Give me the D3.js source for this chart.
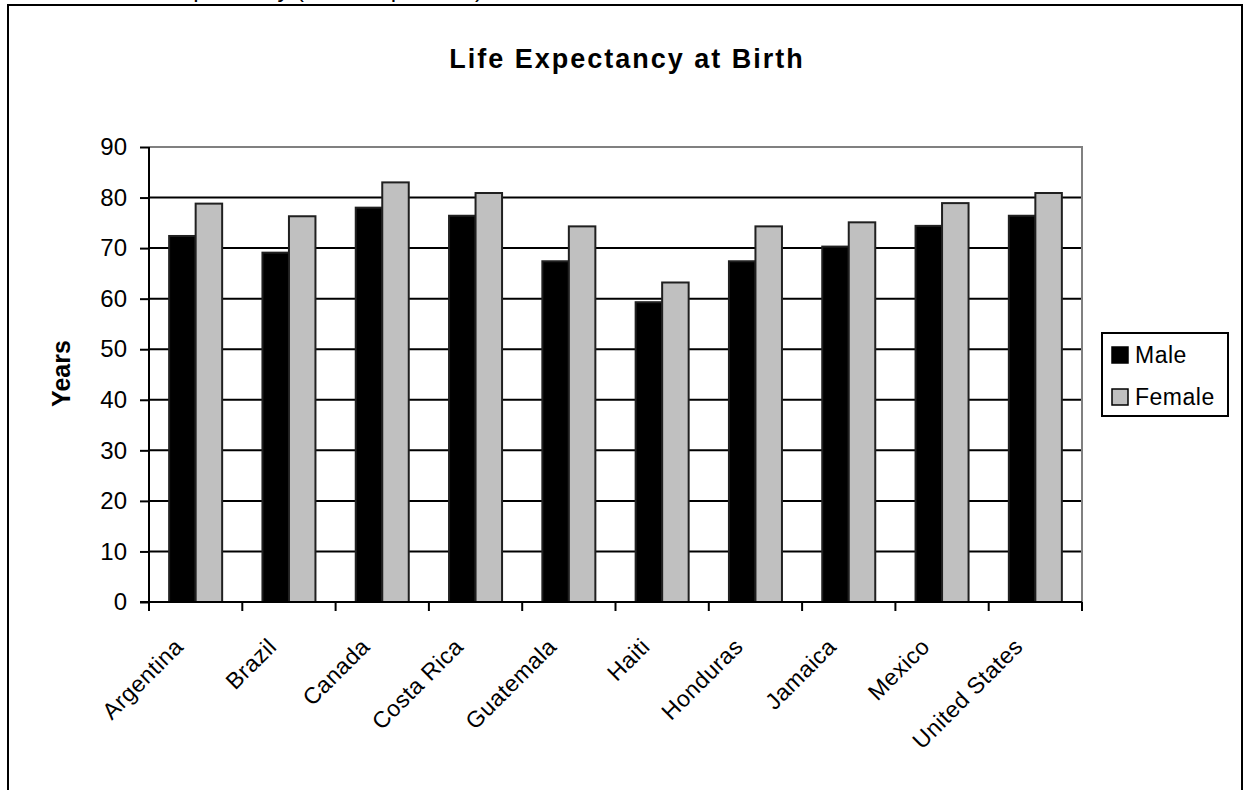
<!DOCTYPE html>
<html>
<head>
<meta charset="utf-8">
<script src="https://cdn.jsdelivr.net/npm/d3@7"></script>
<style>
  html, body { margin: 0; padding: 0; background: #fff; }
  svg { display: block; }
  text { font-family: "Liberation Sans", Arial, sans-serif; fill: #000; }
</style>
</head>
<body>
<svg id="chart" width="1244" height="790"></svg>
<script>
// Life expectancy at birth, in years
const countries = ["Argentina", "Brazil", "Canada", "Costa Rica", "Guatemala",
                   "Haiti", "Honduras", "Jamaica", "Mexico", "United States"];
const maleYears   = [72.4, 69.1, 78.0, 76.4, 67.4, 59.3, 67.4, 70.3, 74.4, 76.4];
const femaleYears = [78.8, 76.3, 83.0, 80.9, 74.3, 63.2, 74.3, 75.1, 78.9, 80.9];
const seriesNames  = ["Male", "Female"];
const seriesColors = ["#000000", "#c0c0c0"];
const yTicks = [0, 10, 20, 30, 40, 50, 60, 70, 80, 90];

const rows = countries.map((c, i) => ({ country: c, values: [maleYears[i], femaleYears[i]] }));

const svg = d3.select("#chart");
const plot = { left: 149, right: 1082, top: 147, bottom: 602 };

// outer chart frame
svg.append("rect")
  .attr("x", 8).attr("y", 5).attr("width", 1234).attr("height", 800)
  .attr("fill", "#fff").attr("stroke", "#000").attr("stroke-width", 2);

// sheet header line sitting just above the chart frame
svg.append("text")
  .attr("x", 120).attr("y", -3)
  .attr("font-size", 24)
  .text("Life Expectancy (Total Population)");

const x0 = d3.scaleBand().domain(countries).range([plot.left, plot.right]).padding(0);
const x1 = d3.scaleBand().domain(seriesNames).range([0, x0.bandwidth()])
  .paddingInner(0).paddingOuter(0.76);
const y = d3.scaleLinear().domain([0, 90]).range([plot.bottom, plot.top]);

// gridlines
svg.append("g")
  .selectAll("line")
  .data(yTicks.filter(t => t > 0 && t < 90))
  .join("line")
  .attr("x1", plot.left).attr("x2", plot.right)
  .attr("y1", d => y(d)).attr("y2", d => y(d))
  .attr("stroke", "#000").attr("stroke-width", 2);

// plot area border (top and right in gray)
svg.append("path")
  .attr("d", `M${plot.left},${y(90)}H${plot.right}V${plot.bottom}`)
  .attr("fill", "none").attr("stroke", "#808080").attr("stroke-width", 2);

// bars
const groups = svg.append("g").selectAll("g")
  .data(rows)
  .join("g")
  .attr("transform", d => `translate(${x0(d.country)},0)`);

groups.selectAll("rect")
  .data(d => d.values.map((v, i) => ({ name: seriesNames[i], value: v, color: seriesColors[i] })))
  .join("rect")
  .attr("x", d => x1(d.name))
  .attr("width", x1.bandwidth())
  .attr("y", d => y(d.value))
  .attr("height", d => y(0) - y(d.value))
  .attr("fill", d => d.color)
  .attr("stroke", "#202020")
  .attr("stroke-width", 2);

// y axis
const yAxis = d3.axisLeft(y).tickValues(yTicks).tickSize(9).tickPadding(13);
const gy = svg.append("g").attr("transform", `translate(${plot.left},0)`).call(yAxis);
gy.select(".domain").attr("stroke", "#000").attr("stroke-width", 2).attr("d", `M0,${y(90)}V${y(0)}`);
gy.selectAll(".tick line").attr("stroke", "#000").attr("stroke-width", 2);
gy.selectAll(".tick text")
  .attr("font-family", "Liberation Sans, Arial, sans-serif")
  .attr("font-size", 24).attr("fill", "#000");

// x axis: ticks at category boundaries
const xBounds = countries.map(c => x0(c)).concat([plot.right]);
svg.append("line")
  .attr("x1", plot.left - 9).attr("x2", plot.right)
  .attr("y1", plot.bottom).attr("y2", plot.bottom)
  .attr("stroke", "#000").attr("stroke-width", 2);
svg.append("g").selectAll("line")
  .data(xBounds)
  .join("line")
  .attr("x1", d => d).attr("x2", d => d)
  .attr("y1", plot.bottom).attr("y2", plot.bottom + 9)
  .attr("stroke", "#000").attr("stroke-width", 2);

// category labels, rotated
svg.append("g").selectAll("text")
  .data(countries)
  .join("text")
  .attr("transform", d => `translate(${x0(d) + x0.bandwidth() / 2 - 11},648) rotate(-45)`)
  .attr("text-anchor", "end")
  .attr("font-size", 23)
  .attr("letter-spacing", 0.5)
  .text(d => d);

// axis title
svg.append("text")
  .attr("transform", "translate(70,373.5) rotate(-90)")
  .attr("text-anchor", "middle")
  .attr("font-size", 25).attr("font-weight", "bold")
  .text("Years");

// chart title
svg.append("text")
  .attr("x", 627).attr("y", 68)
  .attr("text-anchor", "middle")
  .attr("font-size", 27).attr("font-weight", "bold")
  .attr("letter-spacing", 2)
  .text("Life Expectancy at Birth");

// legend
const legend = svg.append("g");
legend.append("rect")
  .attr("x", 1102).attr("y", 333).attr("width", 126).attr("height", 83)
  .attr("fill", "#fff").attr("stroke", "#000").attr("stroke-width", 2);
const items = legend.selectAll("g.item")
  .data(seriesNames)
  .join("g")
  .attr("class", "item")
  .attr("transform", (d, i) => `translate(1112,${347 + i * 42})`);
items.append("rect")
  .attr("width", 16).attr("height", 16)
  .attr("fill", (d, i) => seriesColors[i])
  .attr("stroke", "#000").attr("stroke-width", 1.5);
items.append("text")
  .attr("x", 23).attr("y", 16)
  .attr("font-size", 23).attr("letter-spacing", 0.5)
  .text(d => d);
</script>
</body>
</html>
